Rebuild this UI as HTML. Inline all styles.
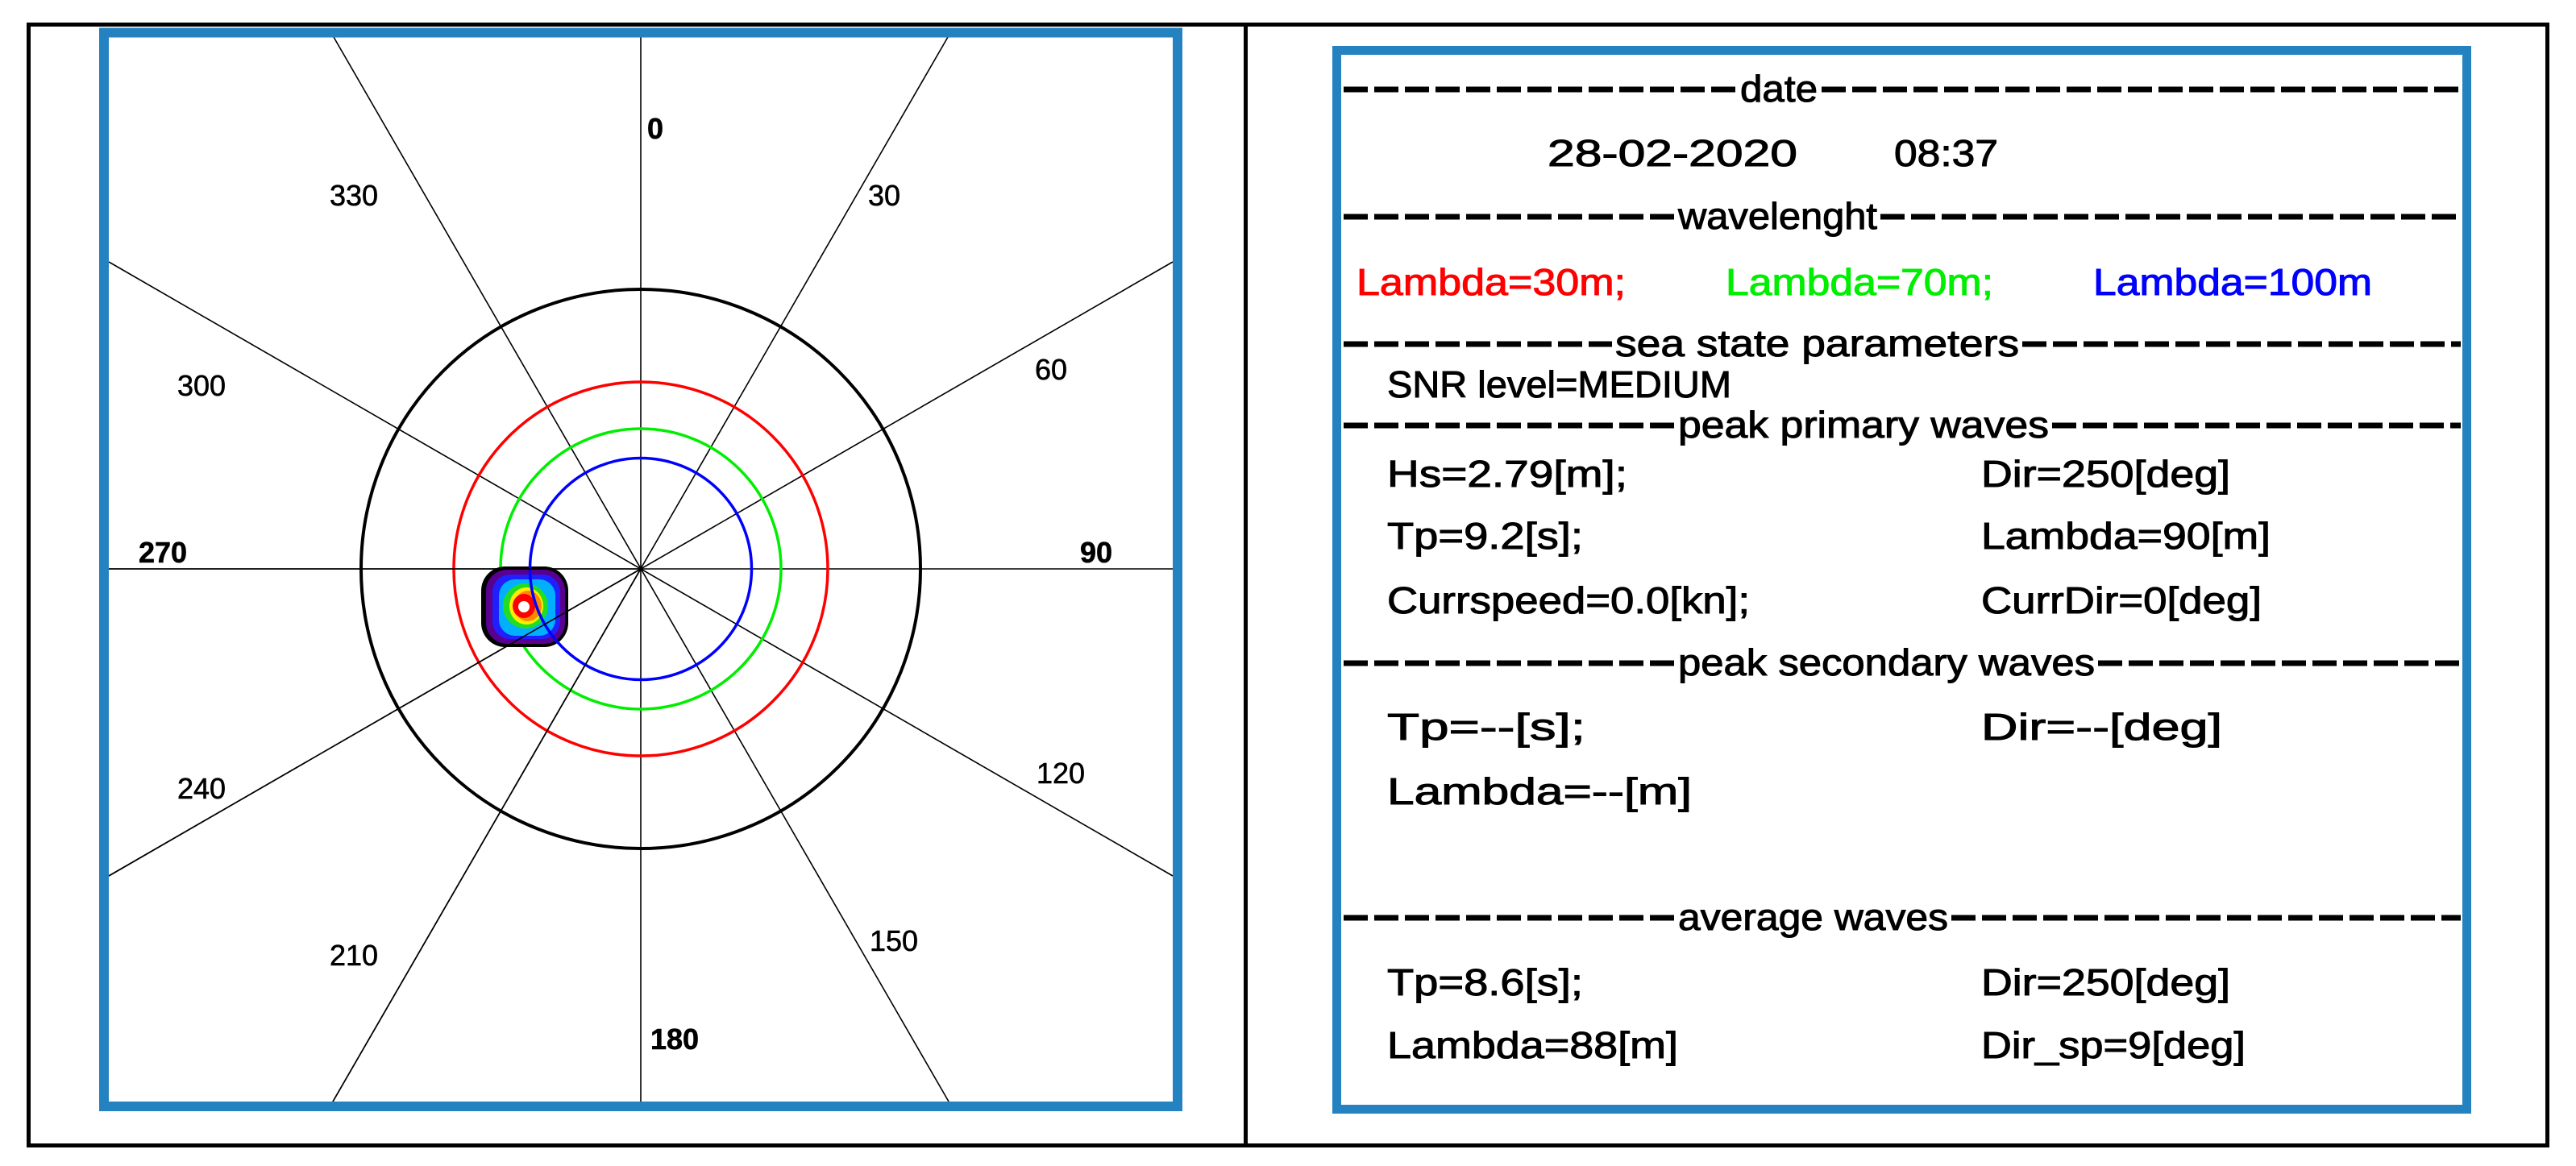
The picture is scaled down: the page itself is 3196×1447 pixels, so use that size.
<!DOCTYPE html>
<html><head><meta charset="utf-8"><style>
html,body{margin:0;padding:0;background:#fff;width:3196px;height:1447px;overflow:hidden;}
svg{display:block;}
text{font-family:"Liberation Sans",sans-serif;}
</style></head><body>
<svg width="3196" height="1447" viewBox="0 0 3196 1447" xmlns="http://www.w3.org/2000/svg">
<rect x="0" y="0" width="3196" height="1447" fill="#fff"/>
<rect x="35.5" y="30.5" width="3125" height="1391" fill="none" stroke="#000" stroke-width="5"/>
<line x1="1545.5" y1="30" x2="1545.5" y2="1422" stroke="#000" stroke-width="5"/>

<g stroke="#000" stroke-width="1.6">
<line x1="795" y1="46" x2="795" y2="1367"/>
<line x1="135" y1="706" x2="1455" y2="706"/>
<line x1="414" y1="46" x2="1177" y2="1367"/>
<line x1="1176" y1="46" x2="413" y2="1367"/>
<line x1="135" y1="325" x2="1455" y2="1087"/>
<line x1="1455" y1="325" x2="135" y2="1087"/>
</g>
<circle cx="795" cy="706" r="347" fill="none" stroke="#000" stroke-width="4"/>
<circle cx="795" cy="706" r="232" fill="none" stroke="#ff0000" stroke-width="3.5"/>
<circle cx="795" cy="706" r="174" fill="none" stroke="#00ee00" stroke-width="3.5"/>
<rect x="597" y="703" width="108" height="100" rx="30" fill="#000"/>
<rect x="603" y="707" width="98" height="92" rx="26" fill="#5a0090"/>
<rect x="611" y="713" width="84" height="80" rx="22" fill="#2020ff"/>
<rect x="619" y="719" width="70" height="70" rx="20" fill="#00b0ff"/>
<ellipse cx="652" cy="752" rx="28" ry="28" fill="#22dd22"/>
<ellipse cx="653" cy="752" rx="21" ry="23" fill="#ffee00"/>
<ellipse cx="655" cy="752" rx="17" ry="19" fill="#ff8800"/>
<ellipse cx="650" cy="752" rx="14" ry="15" fill="#ff0000"/>
<circle cx="650" cy="753" r="7" fill="#fff"/>
<circle cx="795" cy="706" r="137.5" fill="none" stroke="#0000ff" stroke-width="3.5"/>
<g stroke="#000" stroke-width="1.6">
<line x1="795" y1="706" x2="135" y2="1087"/>
<line x1="795" y1="706" x2="413" y2="1367"/>
<line x1="795" y1="706" x2="135" y2="706"/>
</g>
<g font-size="36" text-anchor="middle" fill="#000" stroke="#000" stroke-width="0.6">
<text x="813" y="172" font-weight="bold">0</text>
<text x="439" y="255">330</text>
<text x="1097" y="255">30</text>
<text x="250" y="491">300</text>
<text x="1304" y="471">60</text>
<text x="202" y="698" font-weight="bold">270</text>
<text x="1360" y="698" font-weight="bold">90</text>
<text x="250" y="991">240</text>
<text x="1316" y="972">120</text>
<text x="439" y="1198">210</text>
<text x="1109" y="1180">150</text>
<text x="837" y="1302" font-weight="bold">180</text>
</g>
<rect x="129" y="40.5" width="1332" height="1332.5" fill="none" stroke="#2582c1" stroke-width="12"/>

<rect x="1658.5" y="62.5" width="1402" height="1314" fill="none" stroke="#2582c1" stroke-width="11"/>
<g stroke="#000" stroke-width="7" stroke-dasharray="30 8" stroke-linecap="butt">
<line x1="1667" y1="111" x2="2155" y2="111"/><line x1="2260" y1="111" x2="3053" y2="111"/>
<line x1="1667" y1="269" x2="2078" y2="269"/><line x1="2333" y1="269" x2="3053" y2="269"/>
<line x1="1667" y1="427" x2="2000" y2="427"/><line x1="2509" y1="427" x2="3053" y2="427"/>
<line x1="1667" y1="528" x2="2078" y2="528"/><line x1="2546" y1="528" x2="3053" y2="528"/>
<line x1="1667" y1="823" x2="2078" y2="823"/><line x1="2603" y1="823" x2="3053" y2="823"/>
<line x1="1667" y1="1139" x2="2078" y2="1139"/><line x1="2421" y1="1139" x2="3053" y2="1139"/>
</g>
<g font-size="46" fill="#000" stroke="#000" stroke-width="1">
<text x="2159" y="126" textLength="96" lengthAdjust="spacingAndGlyphs">date</text>
<text x="1920" y="206" textLength="310" lengthAdjust="spacingAndGlyphs">28-02-2020</text>
<text x="2350" y="206" textLength="129" lengthAdjust="spacingAndGlyphs">08:37</text>
<text x="2082" y="284" textLength="247" lengthAdjust="spacingAndGlyphs">wavelenght</text>
<text x="1683" y="366" fill="#ff0000" stroke="#ff0000" textLength="334" lengthAdjust="spacingAndGlyphs">Lambda=30m;</text>
<text x="2141" y="366" fill="#00ee00" stroke="#00ee00" textLength="332" lengthAdjust="spacingAndGlyphs">Lambda=70m;</text>
<text x="2597" y="366" fill="#0000ff" stroke="#0000ff" textLength="346" lengthAdjust="spacingAndGlyphs">Lambda=100m</text>
<text x="2004" y="442" textLength="501" lengthAdjust="spacingAndGlyphs">sea state parameters</text>
<text x="1721" y="493" textLength="427" lengthAdjust="spacingAndGlyphs">SNR level=MEDIUM</text>
<text x="2082" y="543" textLength="460" lengthAdjust="spacingAndGlyphs">peak primary waves</text>
<text x="1721" y="604" textLength="298" lengthAdjust="spacingAndGlyphs">Hs=2.79[m];</text>
<text x="2458" y="604" textLength="309" lengthAdjust="spacingAndGlyphs">Dir=250[deg]</text>
<text x="1721" y="681" textLength="243" lengthAdjust="spacingAndGlyphs">Tp=9.2[s];</text>
<text x="2458" y="681" textLength="359" lengthAdjust="spacingAndGlyphs">Lambda=90[m]</text>
<text x="1721" y="761" textLength="450" lengthAdjust="spacingAndGlyphs">Currspeed=0.0[kn];</text>
<text x="2458" y="761" textLength="348" lengthAdjust="spacingAndGlyphs">CurrDir=0[deg]</text>
<text x="2082" y="838" textLength="517" lengthAdjust="spacingAndGlyphs">peak secondary waves</text>
<text x="1721" y="918" textLength="246" lengthAdjust="spacingAndGlyphs">Tp=--[s];</text>
<text x="2458" y="918" textLength="299" lengthAdjust="spacingAndGlyphs">Dir=--[deg]</text>
<text x="1721" y="998" textLength="378" lengthAdjust="spacingAndGlyphs">Lambda=--[m]</text>
<text x="2082" y="1154" textLength="335" lengthAdjust="spacingAndGlyphs">average waves</text>
<text x="1721" y="1235" textLength="243" lengthAdjust="spacingAndGlyphs">Tp=8.6[s];</text>
<text x="2458" y="1235" textLength="309" lengthAdjust="spacingAndGlyphs">Dir=250[deg]</text>
<text x="1721" y="1313" textLength="361" lengthAdjust="spacingAndGlyphs">Lambda=88[m]</text>
<text x="2458" y="1313" textLength="328" lengthAdjust="spacingAndGlyphs">Dir_sp=9[deg]</text>
</g>
</svg>
</body></html>
